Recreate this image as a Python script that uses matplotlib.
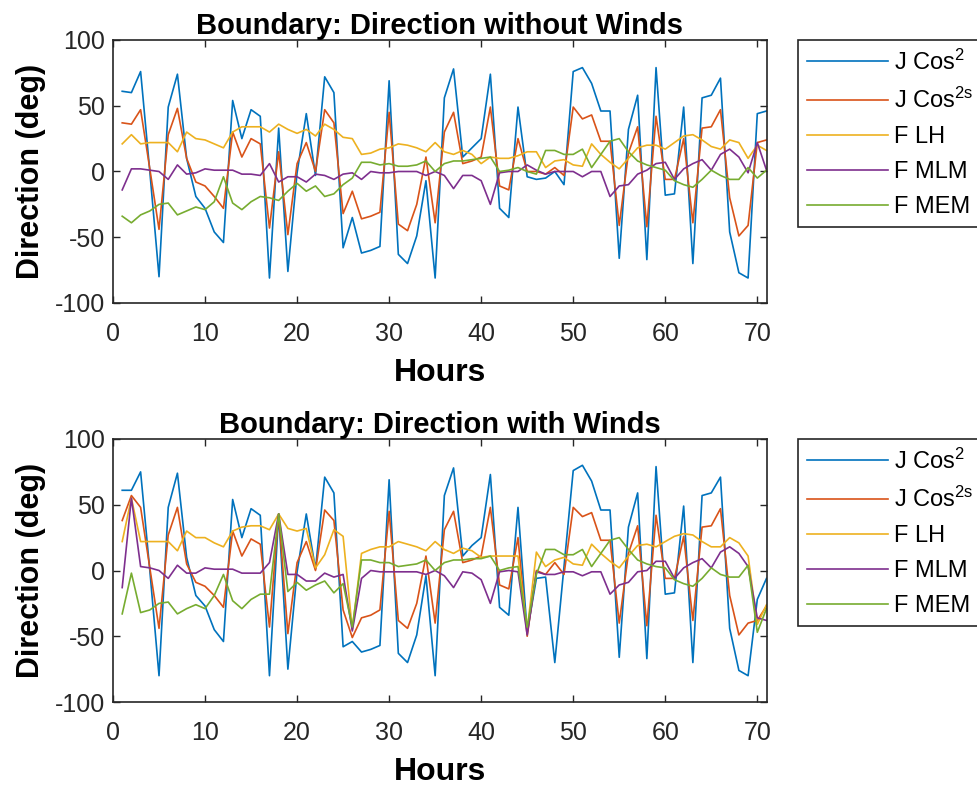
import numpy as np
import matplotlib
matplotlib.use("Agg")
import matplotlib.pyplot as plt

plt.rcParams['font.family'] = ['Liberation Sans', 'DejaVu Sans']
plt.rcParams['mathtext.default'] = 'regular'
plt.rcParams['axes.unicode_minus'] = False

hours = np.arange(1, 72)

series_names = ['J Cos$^{2}$', 'J Cos$^{2s}$', 'F LH', 'F MLM', 'F MEM']
series_colors = ['#0072BD', '#D95319', '#EDB120', '#7E2F8E', '#77AC30']

# ---- Direction without winds ----
calm_j_cos2 = [61, 60, 76, 0, -80, 49, 74, 10, -19, -28, -46, -54, 54, 25, 47, 42, -81, 33,
               -76, -1, 44, -3, 72, 60, -58, -35, -62, -60, -57, 69, -63, -70, -49, -7, -81,
               56, 78, 11, 18, 25, 74, -28, -35, 49, -4, -6, -5, 0, -10, 76, 79, 67, 46, 46,
               -66, 32, 58, -67, 79, -18, -17, 49, -70, 56, 58, 71, -46, -77, -81, 44, 46]
calm_j_cos2s = [37, 36, 47, 2, -44, 28, 48, 10, -8, -11, -19, -28, 30, 11, 25, 21, -43, 15,
                -48, 6, 22, 0, 47, 37, -32, -15, -36, -34, -31, 45, -40, -45, -25, 11, -39,
                30, 45, 6, 8, 11, 49, -11, -14, 25, 0, 0, -2, 3, -3, 49, 40, 43, 23, 23,
                -41, 14, 34, -42, 42, -6, -6, 25, -39, 33, 34, 47, -20, -49, -41, 22, 24]
calm_f_lh = [21, 28, 21, 22, 22, 22, 15, 30, 25, 24, 21, 18, 30, 34, 34, 34, 30, 36,
             32, 29, 32, 27, 36, 32, 26, 25, 13, 14, 17, 18, 21, 20, 18, 15, 22,
             15, 13, 16, 13, 6, 11, 10, 10, 12, 15, 15, 3, 8, 9, 5, 4, 21, 13, 7,
             2, 10, 18, 20, 20, 17, 22, 27, 28, 24, 19, 17, 24, 22, 10, 20, 16]
calm_f_mlm = [-14, 2, 2, 1, 0, -6, 5, -2, -1, 2, 1, 1, 1, -2, -2, -3, 6, -8,
              -4, -4, -8, -2, -3, -6, -2, -1, -6, 0, -1, -1, 0, 0, 0, -3, 0,
              -3, -13, -3, -3, -7, -25, -1, 0, 0, 5, 1, -2, 0, 0, 0, -4, 0, 0, -19,
              -11, -10, -2, 1, 6, 7, -6, 2, 6, 9, 1, 13, 17, 11, -1, 22, 1]
calm_f_mem = [-34, -39, -33, -30, -25, -24, -33, -30, -27, -29, -23, -4, -24, -29, -23, -19, -20, -22,
              -15, -9, -15, -11, -19, -17, -10, -5, 7, 7, 5, 6, 4, 4, 5, 8, 0,
              6, 8, 8, 9, 10, 11, 0, 1, 3, 0, -2, 16, 16, 13, 13, 17, 3, 13, 23,
              25, 15, 8, 5, 3, 1, -7, -10, -12, -6, 1, -3, -6, -6, 3, -5, 1]

# ---- Direction with winds ----
wind_j_cos2 = [61, 61, 75, 0, -80, 48, 74, 10, -19, -27, -45, -54, 54, 25, 47, 42, -80, 43,
               -75, -1, 43, 1, 71, 59, -58, -54, -62, -60, -57, 69, -63, -70, -49, -4, -80,
               57, 78, 11, 19, 25, 73, -28, -34, 48, -47, -6, -5, -70, 3, 76, 80, 68, 46, 46,
               -66, 33, 59, -67, 79, -18, -17, 49, -70, 57, 59, 71, -44, -76, -80, -22, -6]
wind_j_cos2s = [38, 57, 48, 2, -44, 27, 48, 5, -9, -12, -19, -28, 30, 11, 24, 20, -43, 43,
                -48, 6, 22, 0, 46, 38, -30, -51, -36, -34, -30, 45, -38, -44, -25, 11, -40,
                31, 45, 6, 8, 11, 48, -11, -14, 25, -50, 0, -3, 6, -3, 48, 41, 44, 23, 23,
                -40, 13, 34, -42, 42, -6, -6, 26, -38, 33, 34, 47, -19, -49, -40, -38, -27]
wind_f_lh = [22, 55, 22, 22, 22, 22, 15, 30, 25, 25, 21, 18, 30, 33, 34, 34, 31, 43,
             32, 30, 32, 2, 12, 31, 26, -45, 13, 16, 18, 18, 22, 20, 18, 15, 22,
             16, 13, 17, 15, 10, 11, 11, 11, 11, -45, 14, 3, 8, 10, 5, 4, 20, 13, 7,
             2, 11, 19, 20, 18, 22, 26, 28, 27, 22, 18, 18, 25, 21, 11, -41, -26]
wind_f_mlm = [-13, 55, 3, 2, 0, -6, 4, -2, -2, 2, 1, 1, 1, -2, -2, -2, 6, 43,
              -3, -3, -8, -8, -2, -5, -3, -46, -6, 0, -1, -1, -1, -1, -1, -3, 0,
              -4, -13, -1, -2, -7, -25, -1, 0, -1, -49, -1, -3, -3, -1, -1, -4, -1, -1, -18,
              -11, -9, -1, 0, 7, 7, -6, 2, 6, 9, 2, 14, 18, 13, 3, -36, -38]
wind_f_mem = [-33, -2, -32, -30, -25, -24, -33, -29, -26, -29, -19, -3, -23, -29, -22, -18, -18, 43,
              -16, -9, -15, -11, -8, -17, -10, -43, 8, 8, 6, 6, 3, 4, 5, 8, 0,
              6, 8, 8, 9, 9, 11, 0, 2, 3, -43, -3, 16, 16, 12, 12, 16, 3, 13, 23,
              25, 16, 8, 5, 3, 2, -7, -10, -12, -6, 2, -3, -5, -5, 4, -47, -29]

panels = [
    ('Boundary: Direction without Winds',
     [calm_j_cos2, calm_j_cos2s, calm_f_lh, calm_f_mlm, calm_f_mem]),
    ('Boundary: Direction with Winds',
     [wind_j_cos2, wind_j_cos2s, wind_f_lh, wind_f_mlm, wind_f_mem]),
]

W, H = 977, 786
fig = plt.figure(figsize=(W / 100, H / 100), dpi=100)

axis_color = '#262626'
ax_left, ax_right = 113, 766.5
axes_px = [(40, 303), (439, 702)]

for (title, data), (top, bottom) in zip(panels, axes_px):
    ax = fig.add_axes([ax_left / W, 1 - bottom / H,
                       (ax_right - ax_left) / W, (bottom - top) / H])
    for vals, name, col in zip(data, series_names, series_colors):
        ax.plot(hours, vals, color=col, lw=1.2, label=name)
    ax.set_xlim(0, 71)
    ax.set_ylim(-100, 100)
    ax.set_xticks(np.arange(0, 71, 10))
    ax.set_yticks(np.arange(-100, 101, 50))
    ax.tick_params(direction='in', length=5, width=1, top=True, right=True,
                   labelsize=18, colors=axis_color)
    ax.tick_params(axis='x', pad=14)
    ax.tick_params(axis='y', pad=6)
    for sp in ax.spines.values():
        sp.set_color(axis_color)
        sp.set_linewidth(1.2)
    ax.set_title(title, fontsize=21, fontweight='bold', pad=4, color='black')
    ax.set_xlabel('Hours', fontsize=23, fontweight='bold', labelpad=8, color='black')
    ax.set_ylabel('Direction (deg)', fontsize=22, fontweight='bold', labelpad=6,
                  color='black')
    leg = ax.legend(loc='upper left', bbox_to_anchor=(798 / W, 1 - top / H),
                    bbox_transform=fig.transFigure, fontsize=17, frameon=True,
                    fancybox=False, framealpha=1, edgecolor=axis_color,
                    handlelength=3.4, handletextpad=0.25, borderpad=0.4,
                    labelspacing=0.55, borderaxespad=0)
    leg.get_frame().set_linewidth(1.2)

fig.savefig('out.png', dpi=100, facecolor='white')
